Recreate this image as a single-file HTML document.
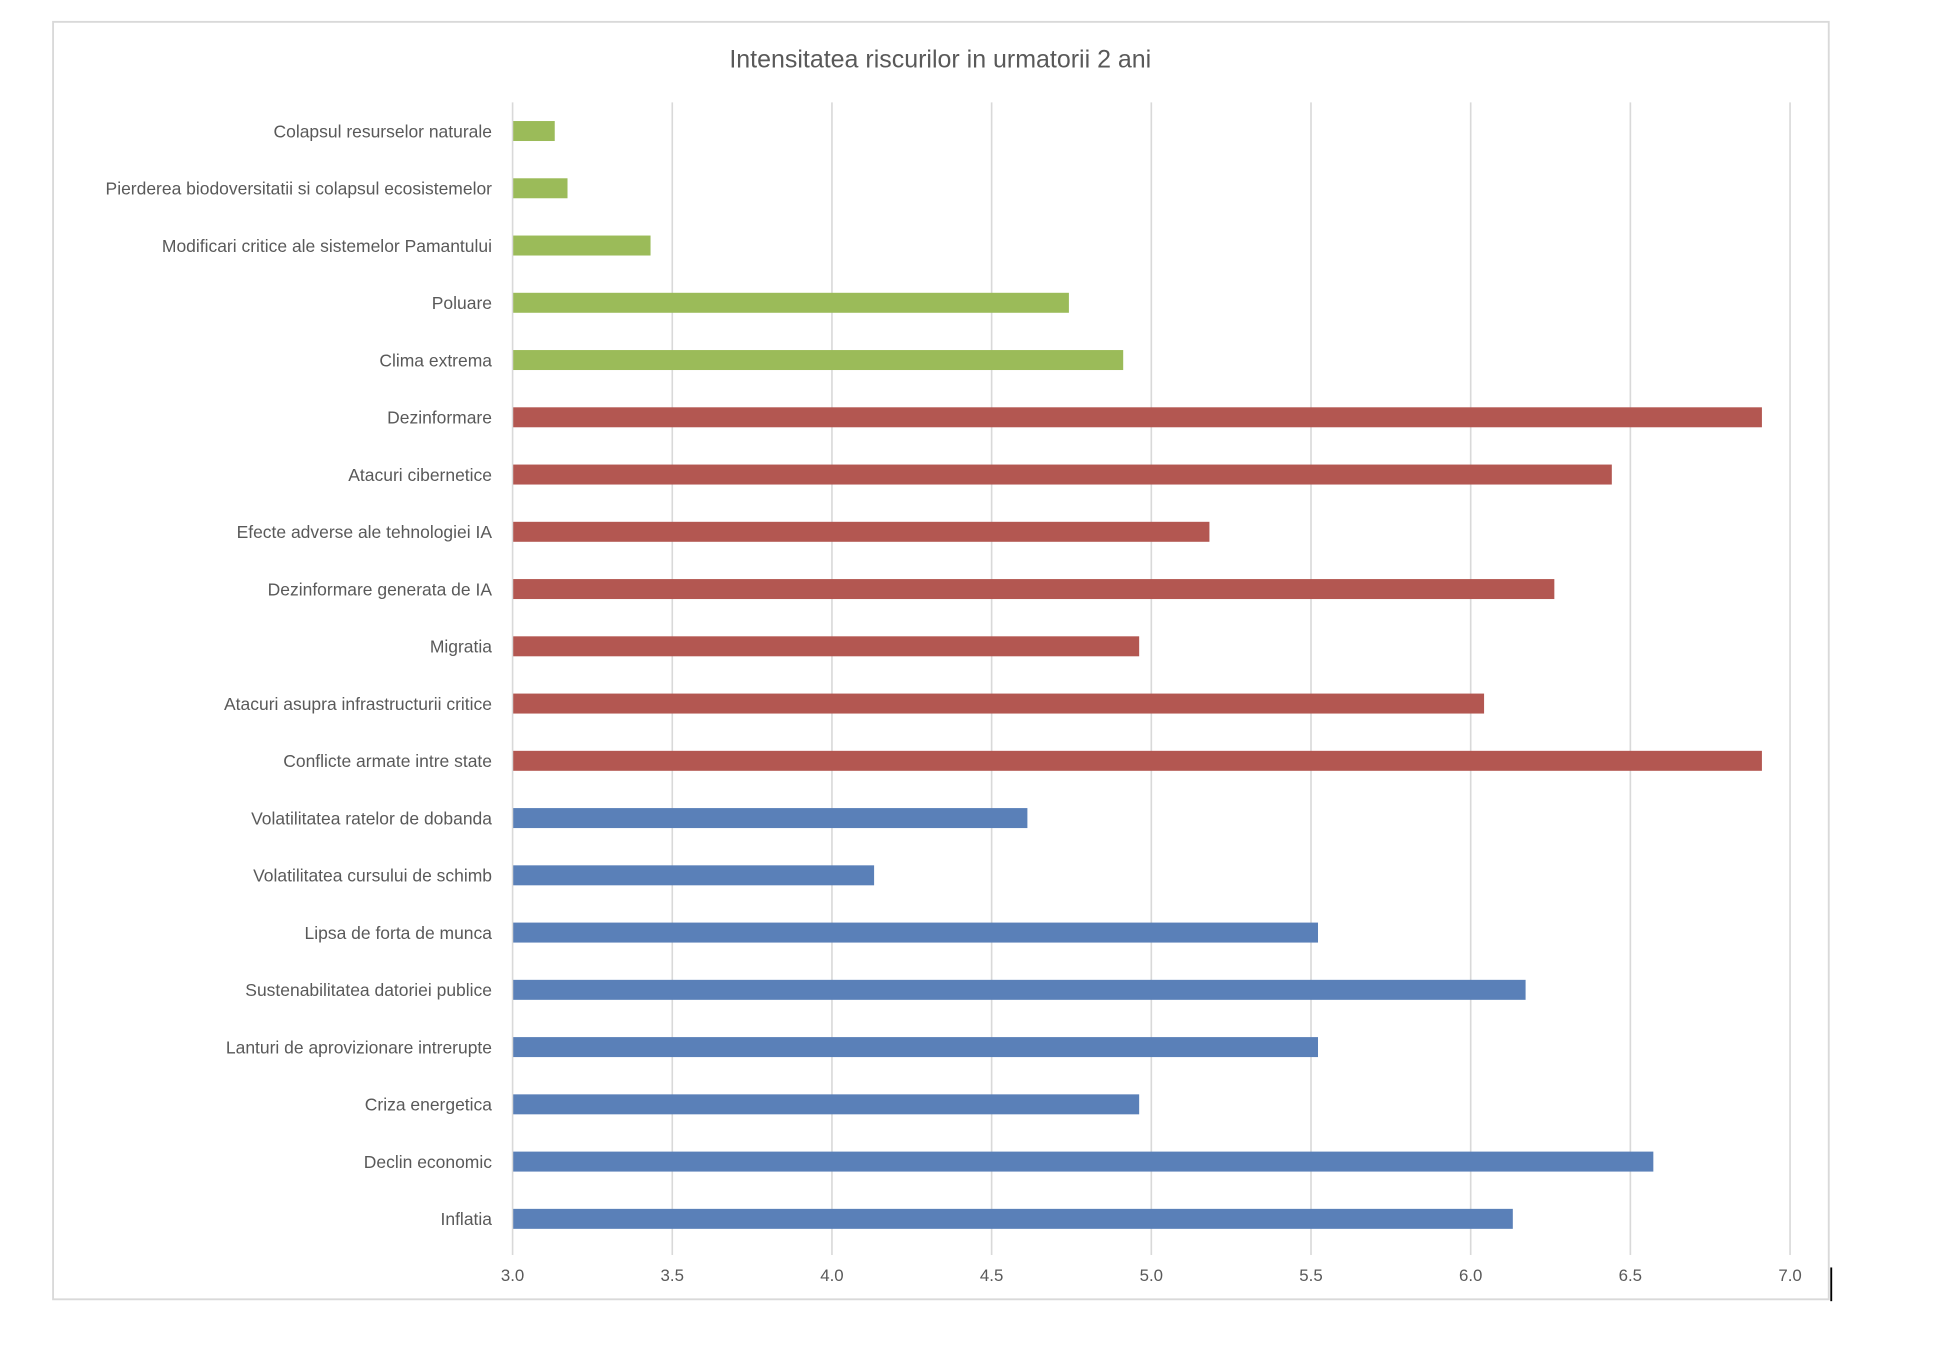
<!DOCTYPE html>
<html><head><meta charset="utf-8">
<style>
html,body{margin:0;padding:0;background:#fff;}
svg{display:block;font-family:"Liberation Sans",sans-serif;}
</style></head>
<body>
<svg id="chart" width="1948" height="1348" viewBox="0 0 1560 1079.5" preserveAspectRatio="none" xmlns="http://www.w3.org/2000/svg">
  <rect x="42.5" y="17.5" width="1422" height="1023" fill="#fff" stroke="#d9d9d9" stroke-width="1.5"/>
  <line x1="1466.5" y1="1015" x2="1466.5" y2="1042" stroke="#000" stroke-width="1.5"/>
  <text x="753" y="54" text-anchor="middle" font-size="20" fill="#595959">Intensitatea riscurilor in urmatorii 2 ani</text>
  <g id="grid"></g>
  <g id="bars"></g>
  <g id="ylabels"></g>
  <g id="xlabels"></g>
</svg>
<script>
const categories = ["Colapsul resurselor naturale","Pierderea biodoversitatii si colapsul ecosistemelor","Modificari critice ale sistemelor Pamantului","Poluare","Clima extrema","Dezinformare","Atacuri cibernetice","Efecte adverse ale tehnologiei IA","Dezinformare generata de IA","Migratia","Atacuri asupra infrastructurii critice","Conflicte armate intre state","Volatilitatea ratelor de dobanda","Volatilitatea cursului de schimb","Lipsa de forta de munca","Sustenabilitatea datoriei publice","Lanturi de aprovizionare intrerupte","Criza energetica","Declin economic","Inflatia"];
const values = [3.13,3.17,3.43,4.74,4.91,6.91,6.44,5.18,6.26,4.96,6.04,6.91,4.61,4.13,5.52,6.17,5.52,4.96,6.57,6.13];
const groups = ["env","env","env","env","env","tech","tech","tech","tech","tech","tech","tech","eco","eco","eco","eco","eco","eco","eco","eco"];
const ticks = [3.0,3.5,4.0,4.5,5.0,5.5,6.0,6.5,7.0];
const tickLabels = ["3.0","3.5","4.0","4.5","5.0","5.5","6.0","6.5","7.0"];

(function(){
const NS="http://www.w3.org/2000/svg";
const colors={env:"#9bbb59",tech:"#b35751",eco:"#5a80b8"};
const xMin=3, xMax=7, plotLeft=410.5, plotRight=1433.5, plotTop=82, plotBottom=999;
const xs=v=>plotLeft+(v-xMin)/(xMax-xMin)*(plotRight-plotLeft);
const band=(plotBottom-plotTop)/categories.length;
const yc=i=>plotTop+band*(i+0.5);
const barH=16;
function mk(tag,attrs,parent){const e=document.createElementNS(NS,tag);for(const k in attrs)e.setAttribute(k,attrs[k]);parent.appendChild(e);return e;}
const grid=document.getElementById('grid'),bars=document.getElementById('bars'),yl=document.getElementById('ylabels'),xl=document.getElementById('xlabels');
ticks.forEach((t,i)=>{
  const l=mk('line',{x1:xs(t),x2:xs(t),y1:plotTop,y2:plotBottom+6,stroke:"#d9d9d9","stroke-width":1.3},grid);
  
  
  const tx=mk('text',{x:xs(t),y:1026,"text-anchor":"middle","font-size":13.5,fill:"#595959"},xl);
  tx.textContent=tickLabels[i];
  
  
});
categories.forEach((c,i)=>{
  const r=mk('rect',{x:xs(xMin)+0.5,y:yc(i)-barH/2,width:xs(values[i])-xs(xMin),height:barH,fill:colors[groups[i]]},bars);
  
  
  const t=mk('text',{x:394,y:yc(i)+5,"text-anchor":"end","font-size":14,fill:"#595959"},yl);
  t.textContent=c;
  
  
});
})();
</script>
</body></html>
